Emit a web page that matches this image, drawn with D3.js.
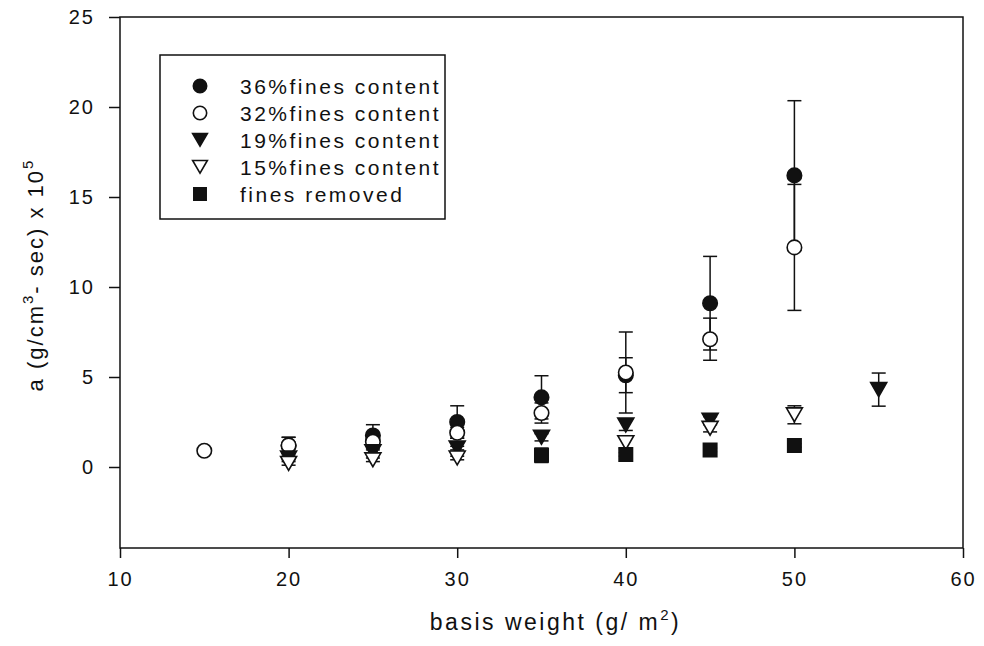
<!DOCTYPE html>
<html>
<head>
<meta charset="utf-8">
<script src="https://cdn.jsdelivr.net/npm/d3@7"></script>
<style>
  body { margin: 0; background: #fff; }
  text { font-family: "Liberation Sans", Arial, sans-serif; fill: #111; }
</style>
</head>
<body>
<div id="chart"></div>
<script>
// valores (a x 10^5 vs basis weight)
const xTicks = [10, 20, 30, 40, 50, 60];
const yTicks = [0, 5, 10, 15, 20, 25];

const x36 = [20, 25, 30, 35, 40, 45, 50];
const y36 = [1.2, 1.75, 2.5, 3.87, 5.1, 9.1, 16.2];
const e36 = [0.45, 0.6, 0.9, 1.2, 0.97, 2.6, 4.15];

const x32 = [15, 20, 25, 30, 35, 40, 45, 50];
const y32 = [0.9, 1.2, 1.4, 1.9, 3.0, 5.25, 7.1, 12.2];
const e32 = [0.1, 0.45, 0.35, 0.3, 0.56, 2.25, 1.17, 3.5];

const x19 = [20, 25, 30, 35, 40, 45, 55];
const y19 = [0.5, 0.85, 1.05, 1.65, 2.33, 2.6, 4.3];
const e19 = [0.1, 0.1, 0.1, 0.2, 0.3, 0.2, 0.92];

const x15 = [20, 25, 30, 40, 45, 50];
const y15 = [0.2, 0.4, 0.5, 1.35, 2.15, 2.9];
const e15 = [0.1, 0.1, 0.1, 0.33, 0.2, 0.5];

const xRem = [35, 40, 45, 50];
const yRem = [0.65, 0.7, 0.95, 1.2];
const eRem = [0.4, 0.1, 0.1, 0.1];

const seriesLabels = ["36%fines content", "32%fines content", "19%fines content",
                      "15%fines content", "fines removed"];

const width = 984;
const height = 646;
const margin = { top: 17, right: 21, bottom: 98, left: 120 };

const x = d3.scaleLinear()
  .domain([10, 60])
  .range([margin.left, width - margin.right]);

const y = d3.scaleLinear()
  .domain([-4.5, 25])
  .range([height - margin.bottom, margin.top]);

// Símbolos
const triSize = 111;
const triShift = Math.sqrt(triSize / (Math.sqrt(3) * 3)) / 2;
const symbols = [
  { type: d3.symbolCircle, size: 165, fill: "#111", rotate: 0 },
  { type: d3.symbolCircle, size: 165, fill: "#fff", rotate: 0 },
  { type: d3.symbolTriangle, size: triSize, fill: "#111", rotate: 180 },
  { type: d3.symbolTriangle, size: triSize, fill: "#fff", rotate: 180 },
  { type: d3.symbolSquare, size: 180, fill: "#111", rotate: 0 }
];

const series = [
  [x36, y36, e36], [x32, y32, e32], [x19, y19, e19], [x15, y15, e15], [xRem, yRem, eRem]
].map(([xs, ys, es], i) => ({
  sym: symbols[i],
  label: seriesLabels[i],
  points: xs.map((v, j) => ({ x: v, y: ys[j], e: es[j] }))
}));

const svg = d3.select("#chart")
  .append("svg")
  .attr("width", width)
  .attr("height", height)
  .attr("viewBox", [0, 0, width, height]);

// Eixos
const gx = svg.append("g")
  .attr("transform", `translate(0,${height - margin.bottom})`)
  .call(d3.axisBottom(x).tickValues(xTicks).tickSize(10).tickPadding(14));

const gy = svg.append("g")
  .attr("transform", `translate(${margin.left},0)`)
  .call(d3.axisLeft(y).tickValues(yTicks).tickSize(11).tickPadding(16));

[gx, gy].forEach(g => {
  g.select(".domain").remove();
  g.selectAll(".tick line").attr("stroke", "#111").attr("stroke-width", 1.5);
  g.selectAll(".tick text")
    .attr("font-size", 20)
    .attr("letter-spacing", 2)
    .attr("font-family", "Liberation Sans, Arial, sans-serif")
    .attr("fill", "#111");
});
gy.selectAll(".tick text").attr("dx", 2);

svg.append("rect")
  .attr("x", margin.left)
  .attr("y", margin.top)
  .attr("width", width - margin.right - margin.left)
  .attr("height", height - margin.bottom - margin.top)
  .attr("fill", "none")
  .attr("stroke", "#111")
  .attr("stroke-width", 1.5);

// Barras de erro (atrás dos símbolos)
const capW = 7;
series.forEach(s => {
  const g = svg.append("g").attr("stroke", "#111").attr("stroke-width", 1.5);
  s.points.forEach(p => {
    const cx = x(p.x), y0 = y(p.y - p.e), y1 = y(p.y + p.e);
    g.append("line").attr("x1", cx).attr("x2", cx).attr("y1", y0).attr("y2", y1);
    g.append("line").attr("x1", cx - capW).attr("x2", cx + capW).attr("y1", y0).attr("y2", y0);
    g.append("line").attr("x1", cx - capW).attr("x2", cx + capW).attr("y1", y1).attr("y2", y1);
  });
});

function symbolTransform(sym, px, py) {
  if (sym.rotate) return `translate(${px},${py - triShift}) rotate(${sym.rotate})`;
  return `translate(${px},${py})`;
}

// Símbolos
series.forEach(s => {
  svg.append("g")
    .selectAll("path")
    .data(s.points)
    .join("path")
    .attr("d", d3.symbol().type(s.sym.type).size(s.sym.size))
    .attr("transform", d => symbolTransform(s.sym, x(d.x), y(d.y)))
    .attr("fill", s.sym.fill)
    .attr("stroke", "#111")
    .attr("stroke-width", 1.6);
});

// Legenda
const legend = svg.append("g");
legend.append("rect")
  .attr("x", 160).attr("y", 55)
  .attr("width", 285).attr("height", 164)
  .attr("fill", "#fff")
  .attr("stroke", "#111")
  .attr("stroke-width", 1.5);

series.forEach((s, i) => {
  const ly = 86 + i * 27;
  legend.append("path")
    .attr("d", d3.symbol().type(s.sym.type).size(s.sym.size * 0.85))
    .attr("transform", symbolTransform(s.sym, 200, ly))
    .attr("fill", s.sym.fill)
    .attr("stroke", "#111")
    .attr("stroke-width", 1.6);
  legend.append("text")
    .attr("x", 240)
    .attr("y", ly)
    .attr("dy", "0.36em")
    .attr("font-size", 21)
    .attr("letter-spacing", 2.5)
    .text(s.label);
});

// Títulos dos eixos
const xTitle = svg.append("text")
  .attr("x", (margin.left + width - margin.right) / 2 + 14)
  .attr("y", 630)
  .attr("text-anchor", "middle")
  .attr("font-size", 23)
  .attr("letter-spacing", 2.5);
xTitle.append("tspan").text("basis weight (g/ m");
xTitle.append("tspan").attr("font-size", 15).attr("dy", -10).text("2");
xTitle.append("tspan").attr("dy", 10).text(")");

const yTitle = svg.append("text")
  .attr("transform", `translate(43,${275}) rotate(-90)`)
  .attr("text-anchor", "middle")
  .attr("font-size", 22)
  .attr("letter-spacing", 2);
yTitle.append("tspan").text("a (g/cm");
yTitle.append("tspan").attr("font-size", 15).attr("dy", -10).text("3");
yTitle.append("tspan").attr("dy", 10).text("- sec) x 10");
yTitle.append("tspan").attr("font-size", 15).attr("dy", -10).text("5");
</script>
</body>
</html>
